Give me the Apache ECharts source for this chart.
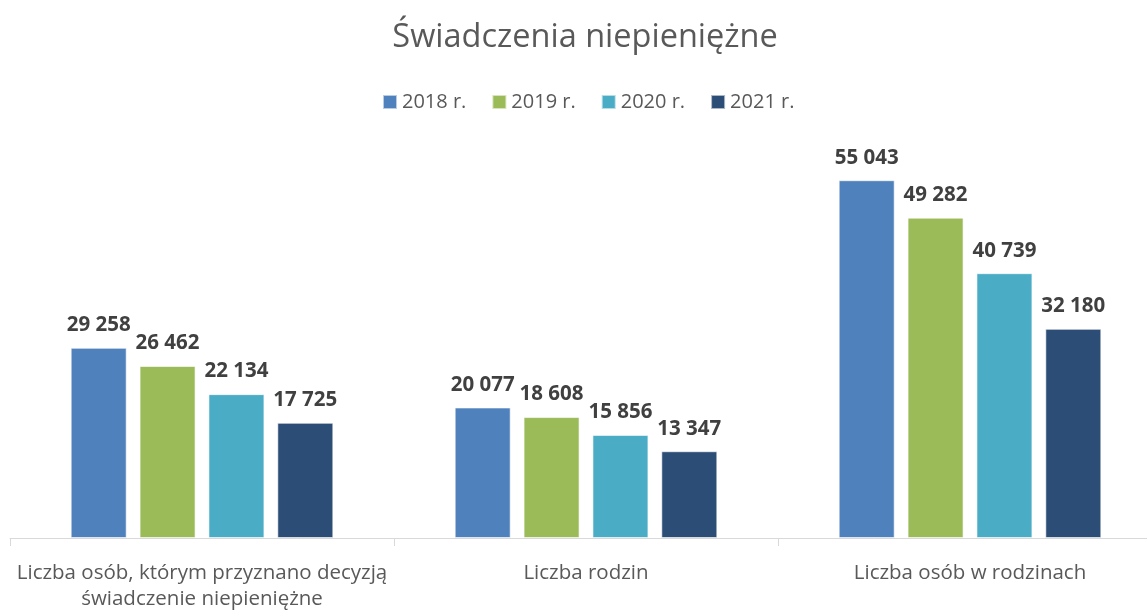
<!DOCTYPE html>
<html>
<head>
<meta charset="utf-8">
<script src="https://cdn.jsdelivr.net/npm/echarts@6/dist/echarts.min.js"></script>
<style>
  html, body { margin: 0; padding: 0; background: #fff; overflow: hidden; }
  /* the drawing surface is a little wider than the window; the right edge is clipped */
  #chart { width: 1170px; height: 612px; }
</style>
</head>
<body>
<div id="chart"></div>
<script>
// Categories and yearly values
const categories = [
  'Liczba osób, którym przyznano decyzją\nświadczenie niepieniężne',
  'Liczba rodzin',
  'Liczba osób w rodzinach'
];
const years = ['2018 r.', '2019 r.', '2020 r.', '2021 r.'];
const values2018 = [29258, 20077, 55043];
const values2019 = [26462, 18608, 49282];
const values2020 = [22134, 15856, 40739];
const values2021 = [17725, 13347, 32180];
const colors = ['#4f81bd', '#9bbb59', '#4bacc6', '#2c4d75'];

const FONT = '"Open Sans", "Liberation Sans", sans-serif';

function fmt(v) {
  return String(v).replace(/\B(?=(\d{3})+(?!\d))/g, ' ');
}

const seriesData = [values2018, values2019, values2020, values2021];

const chart = echarts.init(document.getElementById('chart'), null, { renderer: 'canvas' });
chart.setOption({
  backgroundColor: '#ffffff',
  animation: false,
  color: colors,
  title: {
    text: 'Świadczenia niepieniężne',
    left: 'center',
    top: 16,
    textStyle: { fontFamily: FONT, fontSize: 32.5, fontWeight: 'normal', color: '#595959' }
  },
  legend: {
    top: 87,
    left: 377,
    itemWidth: 14,
    itemHeight: 14,
    itemGap: 25,
    icon: 'rect',
    textStyle: { fontFamily: FONT, fontSize: 20, color: '#595959' },
    data: years
  },
  grid: { left: 10, right: 8, top: 148, bottom: 71, containLabel: false },
  xAxis: {
    type: 'category',
    data: categories,
    axisLine: { lineStyle: { color: '#d9d9d9', width: 1 } },
    axisTick: { show: true, length: 8, lineStyle: { color: '#d9d9d9' } },
    axisLabel: {
      fontFamily: FONT, fontSize: 20.5, color: '#595959',
      margin: 22, lineHeight: 26, interval: 0
    }
  },
  yAxis: {
    type: 'value',
    min: 0,
    max: 60000,
    show: false,
    splitLine: { show: false }
  },
  series: seriesData.map((d, i) => ({
    name: years[i],
    type: 'bar',
    data: d,
    barWidth: 56,
    barGap: '23%',
    itemStyle: { color: colors[i], borderColor: 'rgba(255,255,255,0.6)', borderWidth: 1 },
    label: {
      show: true,
      position: 'top',
      distance: 12,
      formatter: p => fmt(p.value),
      fontFamily: FONT,
      fontSize: 20.5,
      fontWeight: 'bold',
      color: '#404040'
    }
  }))
});
</script>
</body>
</html>
